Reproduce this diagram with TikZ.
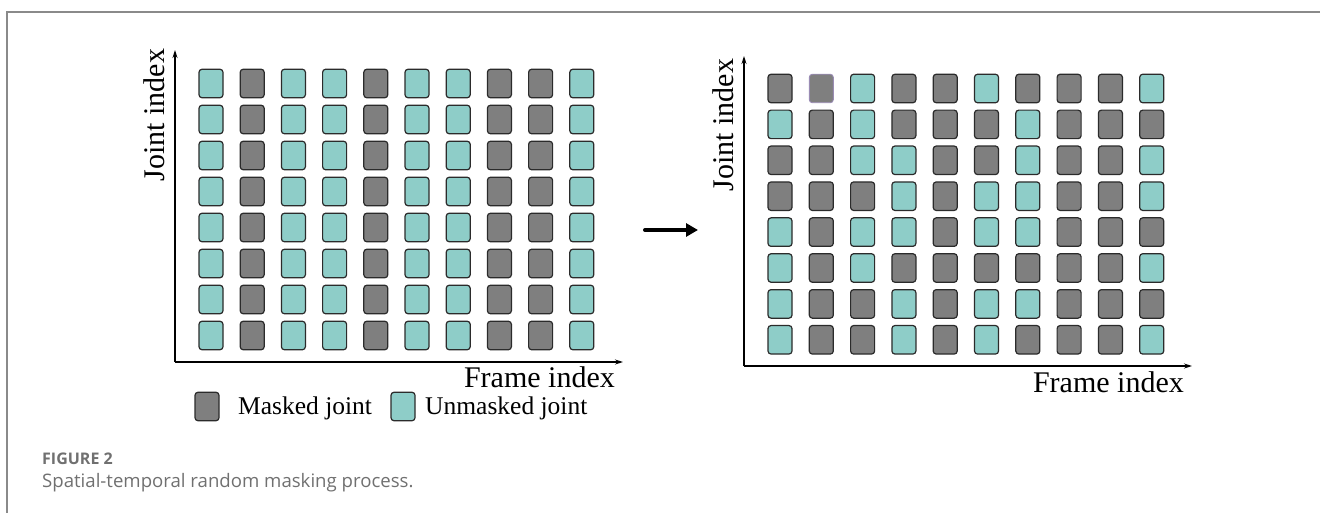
\documentclass[tikz,border=0pt]{standalone}
\usepackage{fontspec}
\setmainfont{Liberation Serif}
\newfontfamily\capfont{Open Sans}
\usetikzlibrary{arrows.meta}
\definecolor{jtTeal}{HTML}{8ECDC8}
\definecolor{jtGray}{HTML}{7F7F7F}
\definecolor{jtEdge}{HTML}{2B2B2B}
\definecolor{jtPurple}{HTML}{9A8CB4}
\definecolor{jtFrame}{HTML}{8A8A8A}
\definecolor{jtCap}{HTML}{707070}
\tikzset{
  cell/.style={rectangle, rounded corners=3pt, minimum width=24pt, minimum height=28.5pt, inner sep=0pt, draw=jtEdge, line width=1.2pt},
  boxT/.style={cell, fill=jtTeal},
  boxG/.style={cell, fill=jtGray},
  boxP/.style={cell, fill=jtGray, draw=jtPurple, line width=0.9pt},
  axisline/.style={line width=1.1pt, -{Stealth[length=8pt,width=5pt]}},
  bigarrow/.style={line width=4pt, line cap=round, -{Triangle[length=12pt,width=13pt]}},
  lbl/.style={inner sep=0pt, font=\fontsize{30}{36}\selectfont},
  leg/.style={inner sep=0pt, font=\fontsize{25.5}{30}\selectfont},
  framerule/.style={draw=jtFrame, line width=2pt},
  captxt/.style={inner sep=0pt, anchor=base west, text=jtCap}
}
\begin{document}
\begin{tikzpicture}[x=1pt,y=-1pt]
\useasboundingbox (0,0) rectangle (1320,513);
% frame
\coordinate (F1) at (7,513);
\coordinate (F2) at (7,12);
\coordinate (F3) at (1320,12);
\draw[framerule] (F1) -- (F2) -- (F3);
% left grid
\foreach \c [count=\i from 0] in {T,G,T,T,G,T,T,G,G,T}{
  \foreach \j in {0,...,7}{
    \node[box\c] (L-\i-\j) at ({211+41.2*\i},{83.5+36*\j}) {};
  }
}
% right grid
\foreach \row [count=\j from 0] in {
  {G,P,T,G,G,T,G,G,G,T},
  {T,G,T,G,G,G,T,G,G,G},
  {G,G,T,T,G,G,T,G,G,T},
  {G,G,G,T,G,T,T,G,G,T},
  {T,G,T,T,G,T,T,G,G,G},
  {T,G,T,G,G,G,G,G,G,T},
  {T,G,G,T,G,T,T,G,G,G},
  {T,G,G,T,G,T,G,G,G,T}}{
  \foreach \c [count=\i from 0] in \row {
    \node[box\c] (R-\i-\j) at ({780+41.3*\i},{88.5+35.9*\j}) {};
  }
}
% axes
\coordinate (LO) at (175,362);
\coordinate (LY) at (175,50);
\coordinate (LX) at (623,362);
\draw[axisline] (LO) -- (LY);
\draw[axisline] (LO) -- (LX);
\coordinate (RO) at (744,366);
\coordinate (RY) at (744,56);
\coordinate (RX) at (1192,366);
\draw[axisline] (RO) -- (RY);
\draw[axisline] (RO) -- (RX);
% axis labels
\node[lbl, rotate=90] (LJ) at (154,115) {Joint index};
\node[lbl, anchor=base east] (LF) at (615,387) {Frame index};
\node[lbl, rotate=90] (RJ) at (723,125) {Joint index};
\node[lbl, anchor=base east] (RF) at (1184,392) {Frame index};
% middle arrow
\coordinate (A1) at (645,230);
\coordinate (A2) at (698,230);
\draw[bigarrow] (A1) -- (A2);
% legend
\node[boxG] (KG) at (207,406.5) {};
\node[leg, anchor=base west] (KGt) at (238,414) {Masked joint};
\node[boxT] (KT) at (403,406.5) {};
\node[leg, anchor=base west] (KTt) at (425,414) {Unmasked joint};
% caption
\node[captxt, font=\capfont\bfseries\fontsize{16}{19}\selectfont] (C1) at (42,464) {FIGURE 2};
\node[captxt, font=\capfont\fontsize{18.6}{22}\selectfont] (C2) at (42,487.5) {Spatial-temporal random masking process.};
\end{tikzpicture}
\end{document}
